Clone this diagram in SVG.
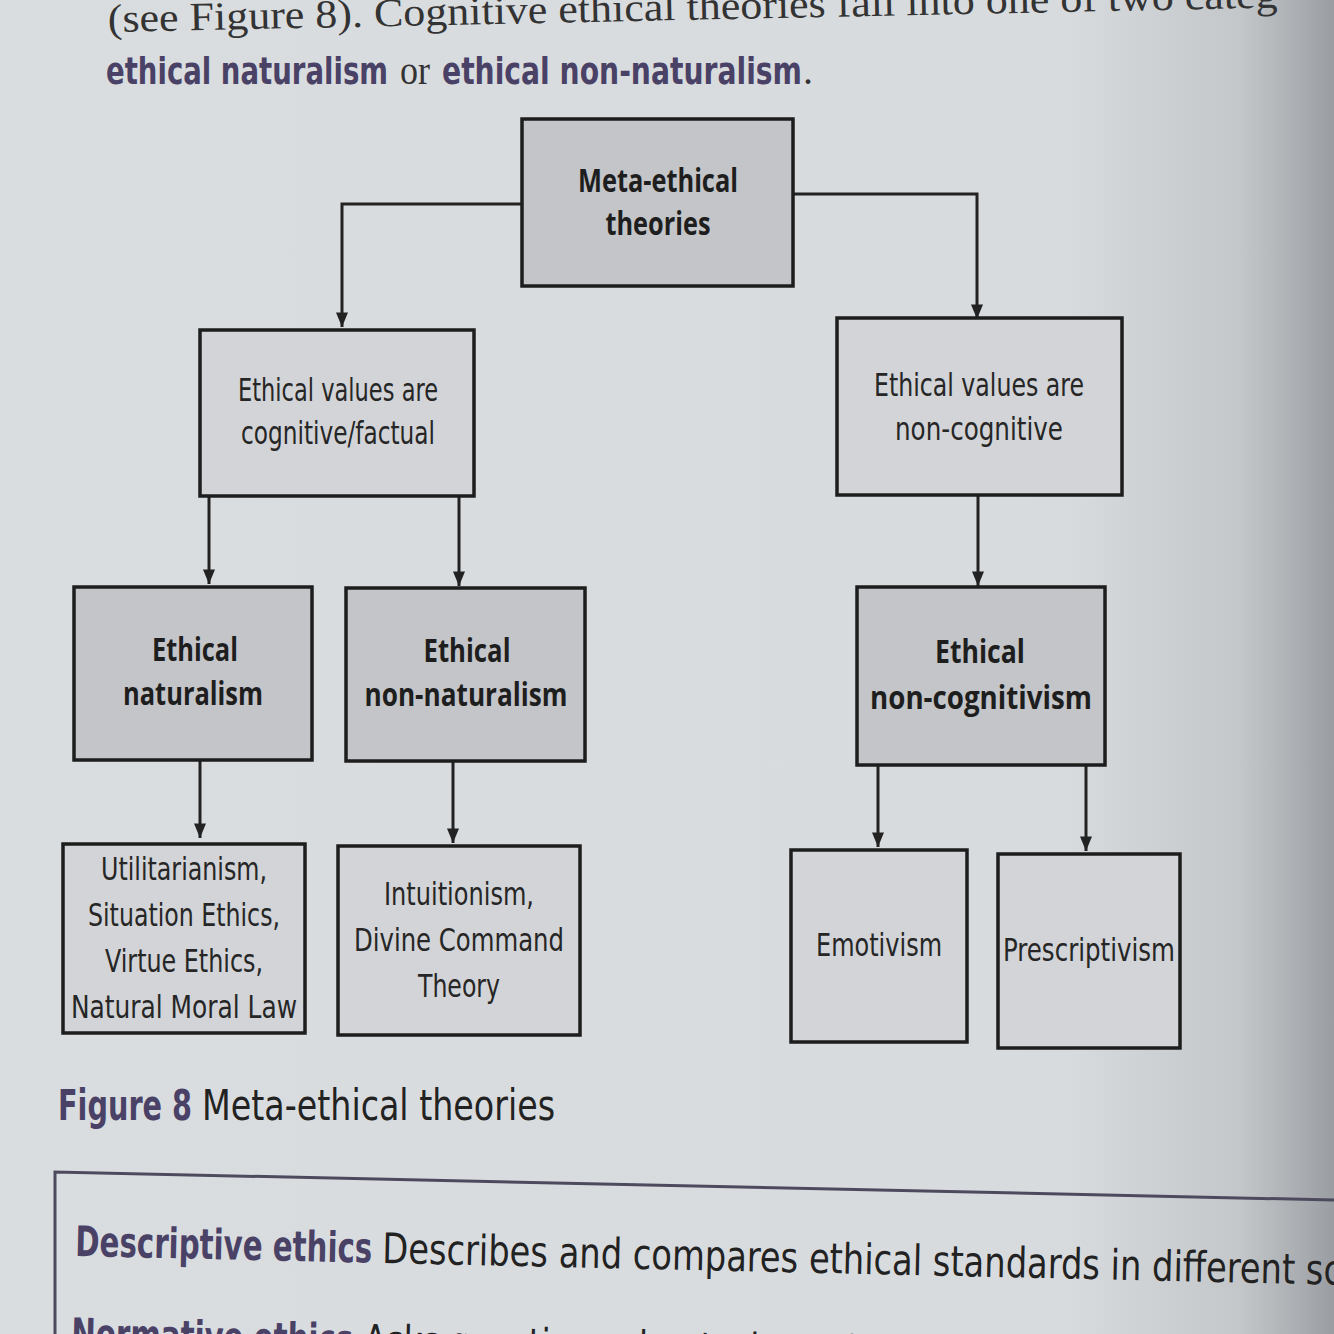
<svg xmlns="http://www.w3.org/2000/svg" width="1334" height="1334" viewBox="0 0 1334 1334">
<defs>
<linearGradient id="bg" x1="0" y1="0" x2="1" y2="0">
<stop offset="0" stop-color="#dadde0"/>
<stop offset="0.8" stop-color="#d8dbde"/>
<stop offset="0.93" stop-color="#c4c7ca"/>
<stop offset="1" stop-color="#9a9ea2"/>
</linearGradient>
<marker id="ahb" viewBox="0 0 12 10" refX="12" refY="5" markerWidth="22" markerHeight="12" markerUnits="userSpaceOnUse" orient="auto">
<path d="M0,0 L12,5 L0,10 z" fill="#222"/>
</marker>
</defs>
<style>
.dk{fill:#c3c5c8;stroke:#1d1d1d;stroke-width:3.5}
.lt{fill:#d2d4d7;stroke:#1d1d1d;stroke-width:3.5}
.b{font-family:"Open Sans","DejaVu Sans",sans-serif;font-weight:bold;font-size:33px;fill:#1e1e1e;text-anchor:middle}
.l{font-family:"DejaVu Sans Condensed","Open Sans",sans-serif;font-weight:300;font-size:32px;fill:#262626;text-anchor:middle}
.c path{fill:none;stroke:#222;stroke-width:3;marker-end:url(#ahb)}
.ser{font-family:"Liberation Serif",serif;font-size:40px;fill:#333}
.pur{font-family:"DejaVu Sans Condensed","Open Sans",sans-serif;font-weight:bold;fill:#4a4266}
.txt{font-family:"DejaVu Sans Condensed","Open Sans",sans-serif;fill:#222}
</style>
<rect width="1334" height="1334" fill="url(#bg)"/>

<g id="page-text">
<text class="ser" x="108" y="32" transform="rotate(-1.2 108 32)" textLength="1170" lengthAdjust="spacingAndGlyphs">(see Figure 8). Cognitive ethical theories fall into one of two categ</text>
<text class="pur" x="106" y="84" font-size="38" textLength="282" lengthAdjust="spacingAndGlyphs">ethical naturalism</text>
<text class="ser" x="400" y="84" font-size="38" textLength="30" lengthAdjust="spacingAndGlyphs">or</text>
<text class="pur" x="442" y="84" font-size="38" textLength="360" lengthAdjust="spacingAndGlyphs">ethical non-naturalism</text>
<text class="ser" x="803" y="84" font-size="38">.</text>
</g>

<g class="c" id="connectors">
<path d="M522,204 H342 V327"/>
<path d="M793,194 H977 V319"/>
<path d="M209,496 V584"/>
<path d="M459,496 V586"/>
<path d="M978,495 V586"/>
<path d="M200,760 V838"/>
<path d="M453,761 V843"/>
<path d="M878,765 V847"/>
<path d="M1086,766 V851"/>
</g>

<g id="n-meta"><rect class="dk" x="522" y="119" width="271" height="167"/>
<text class="b" x="658" y="192" textLength="160" lengthAdjust="spacingAndGlyphs">Meta-ethical</text><text class="b" x="658" y="235" textLength="105" lengthAdjust="spacingAndGlyphs">theories</text></g>

<g id="n-cognitive"><rect class="lt" x="200" y="330" width="274" height="166"/>
<text class="l" x="338" y="401" textLength="200" lengthAdjust="spacingAndGlyphs">Ethical values are</text><text class="l" x="338" y="444" textLength="194" lengthAdjust="spacingAndGlyphs">cognitive/factual</text></g>

<g id="n-noncognitive"><rect class="lt" x="837" y="318" width="285" height="177"/>
<text class="l" x="979" y="396" textLength="210" lengthAdjust="spacingAndGlyphs">Ethical values are</text><text class="l" x="979" y="440" textLength="168" lengthAdjust="spacingAndGlyphs">non-cognitive</text></g>

<g id="n-naturalism"><rect class="dk" x="74" y="587" width="238" height="173"/>
<text class="b" x="195" y="661" textLength="86" lengthAdjust="spacingAndGlyphs">Ethical</text><text class="b" x="193" y="705" textLength="140" lengthAdjust="spacingAndGlyphs">naturalism</text></g>

<g id="n-nonnaturalism"><rect class="dk" x="346" y="588" width="239" height="173"/>
<text class="b" x="467" y="662" textLength="87" lengthAdjust="spacingAndGlyphs">Ethical</text><text class="b" x="466" y="706" textLength="203" lengthAdjust="spacingAndGlyphs">non-naturalism</text></g>

<g id="n-noncognitivism"><rect class="dk" x="857" y="587" width="248" height="178"/>
<text class="b" x="980" y="663" textLength="90" lengthAdjust="spacingAndGlyphs">Ethical</text><text class="b" x="981" y="709" textLength="222" lengthAdjust="spacingAndGlyphs">non-cognitivism</text></g>

<g id="n-util"><rect class="lt" x="63" y="844" width="242" height="189"/>
<text class="l" x="184" y="880" textLength="166" lengthAdjust="spacingAndGlyphs">Utilitarianism,</text>
<text class="l" x="184" y="926" textLength="192" lengthAdjust="spacingAndGlyphs">Situation Ethics,</text>
<text class="l" x="184" y="972" textLength="158" lengthAdjust="spacingAndGlyphs">Virtue Ethics,</text>
<text class="l" x="184" y="1018" textLength="226" lengthAdjust="spacingAndGlyphs">Natural Moral Law</text></g>

<g id="n-intuition"><rect class="lt" x="338" y="846" width="242" height="189"/>
<text class="l" x="459" y="905" textLength="150" lengthAdjust="spacingAndGlyphs">Intuitionism,</text>
<text class="l" x="459" y="951" textLength="210" lengthAdjust="spacingAndGlyphs">Divine Command</text>
<text class="l" x="459" y="997" textLength="82" lengthAdjust="spacingAndGlyphs">Theory</text></g>

<g id="n-emotivism"><rect class="lt" x="791" y="850" width="176" height="192"/>
<text class="l" x="879" y="956" textLength="126" lengthAdjust="spacingAndGlyphs">Emotivism</text></g>

<g id="n-prescriptivism"><rect class="lt" x="998" y="854" width="182" height="194"/>
<text class="l" x="1089" y="961" textLength="172" lengthAdjust="spacingAndGlyphs">Prescriptivism</text></g>

<g id="caption">
<text class="pur" x="58" y="1120" font-size="42" textLength="134" lengthAdjust="spacingAndGlyphs">Figure 8</text>
<text class="txt" x="202" y="1120" font-size="42" textLength="353" lengthAdjust="spacingAndGlyphs">Meta-ethical theories</text>
</g>

<g id="glossary">
<path d="M55,1334 V1172 L1334,1200" fill="none" stroke="#4d4a5e" stroke-width="3"/>
<g transform="rotate(1.3 75 1256)">
<text class="pur" x="75" y="1256" font-size="42" textLength="297" lengthAdjust="spacingAndGlyphs">Descriptive ethics</text>
<text class="txt" x="382" y="1256" font-size="42" textLength="960" lengthAdjust="spacingAndGlyphs">Describes and compares ethical standards in different sc</text>
<text class="pur" x="73" y="1348" font-size="42" textLength="282" lengthAdjust="spacingAndGlyphs">Normative ethics</text>
<text class="txt" x="366" y="1348" font-size="42" textLength="560" lengthAdjust="spacingAndGlyphs">Asks questions about what ethical</text>
</g>
</g>
</svg>
